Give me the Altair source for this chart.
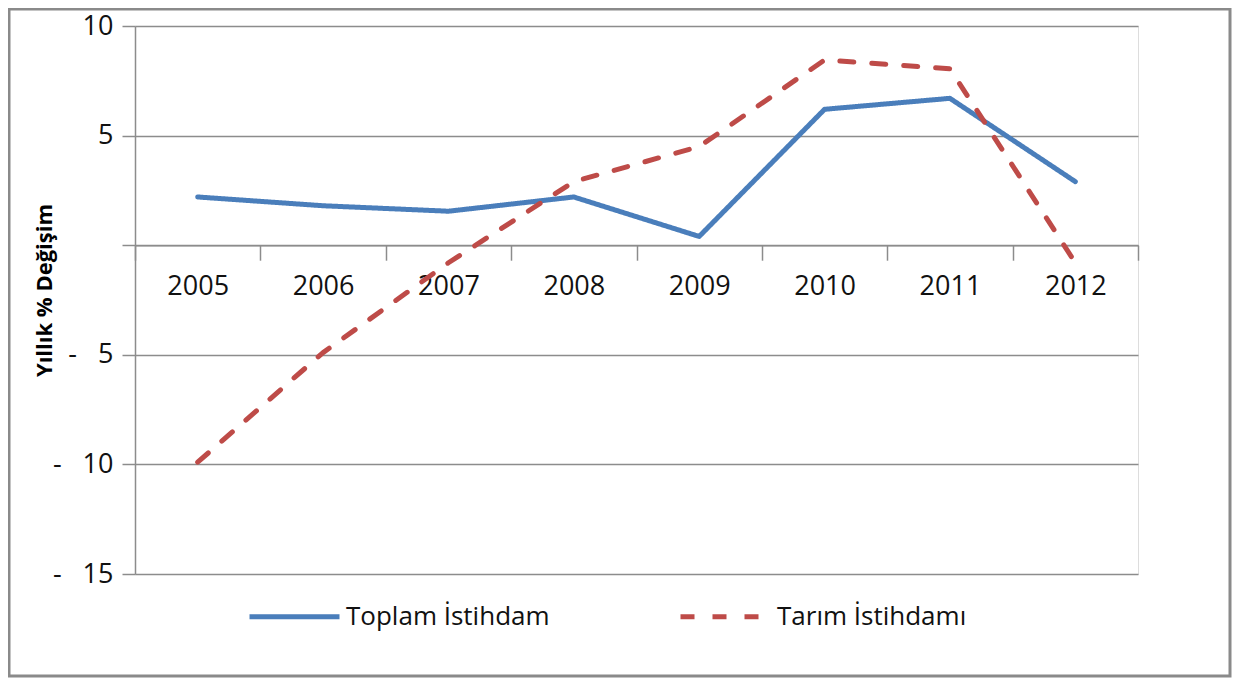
import altair as alt
import pandas as pd

years = ["2005", "2006", "2007", "2008", "2009", "2010", "2011", "2012"]
toplam = [2.2, 1.8, 1.55, 2.2, 0.4, 6.2, 6.7, 2.9]
tarim = [-9.9, -4.9, -0.8, 2.9, 4.5, 8.45, 8.05, -0.8]
series = ["Toplam İstihdam", "Tarım İstihdamı"]

rows = []
for y, a, b in zip(years, toplam, tarim):
    rows.append({"year": y, "value": a, "series": series[0]})
    rows.append({"year": y, "value": b, "series": series[1]})
df = pd.DataFrame(rows)

W, H = 1003, 548
FONT = "Open Sans"
GRID = "#8c8c8c"
zero_px = H * 10 / 25
NB = "\u00a0"

frame = alt.Chart(pd.DataFrame({"a": [0]})).mark_rect(
    filled=False, stroke="#8a8a8a", strokeWidth=3, clip=False
).encode(
    x=alt.value(-126), x2=alt.value(1095), y=alt.value(-17), y2=alt.value(650)
)

label_expr = (
    "datum.value < 0 ? '-" + NB * 3 + "' + (-datum.value) : "
    "(datum.value == 0 ? '' : datum.value)"
)

lines = alt.Chart(df).mark_line(strokeWidth=5, strokeCap="round", strokeJoin="round").encode(
    x=alt.X("year:N", sort=years, bandPosition=0.5,
            scale=alt.Scale(type="band", paddingInner=0, paddingOuter=0),
            axis=alt.Axis(title=None, labelAngle=0, offset=-(H - zero_px), domainColor=GRID,
                          domainWidth=1.5, tickColor=GRID, tickWidth=1.5, tickSize=15,
                          tickBand="extent", labelPadding=13, labelFontSize=27,
                          labelFont=FONT, labelColor="#111", grid=False)),
    y=alt.Y("value:Q", scale=alt.Scale(domain=[-15, 10], nice=False),
            axis=alt.Axis(values=[-15, -10, -5, 0, 5, 10], title="Yıllık % Değişim",
                          labelExpr=label_expr,
                          labelFont=FONT, labelFontSize=27, labelColor="#111",
                          tickSize=13, tickColor=GRID, tickWidth=1.5, labelPadding=9,
                          domainColor=GRID, domainWidth=1.5, gridColor=GRID, gridWidth=1.5,
                          titleFont=FONT, titleFontSize=22, titleFontWeight="bold", titleColor="#000",
                          titleAngle=-90, titleX=-91, titleY=264, titleAlign="center",
                          titleBaseline="middle")),
    color=alt.Color("series:N", scale=alt.Scale(domain=series, range=["#4A7EBB", "#BE4B48"]),
                    legend=alt.Legend(title=None, orient="none", legendX=112, legendY=543,
                                      direction="horizontal", symbolType="stroke",
                                      symbolSize=8100, symbolStrokeWidth=5,
                                      labelFont=FONT, labelFontSize=26, labelColor="#111",
                                      columnPadding=120, labelOffset=4, labelLimit=400)),
    strokeDash=alt.StrokeDash("series:N", scale=alt.Scale(domain=series, range=[[1, 0], [14, 18]]),
                              legend=None),
    detail="series:N",
)

chart = alt.layer(frame, lines).properties(
    width=W, height=H,
    autosize=alt.AutoSizeParams(type="none"),
    padding={"left": 127, "top": 18, "right": 94, "bottom": 104},
).configure_view(stroke=None).configure(background="white")

chart.save("out.html", embed_options={"renderer": "svg", "actions": False})
